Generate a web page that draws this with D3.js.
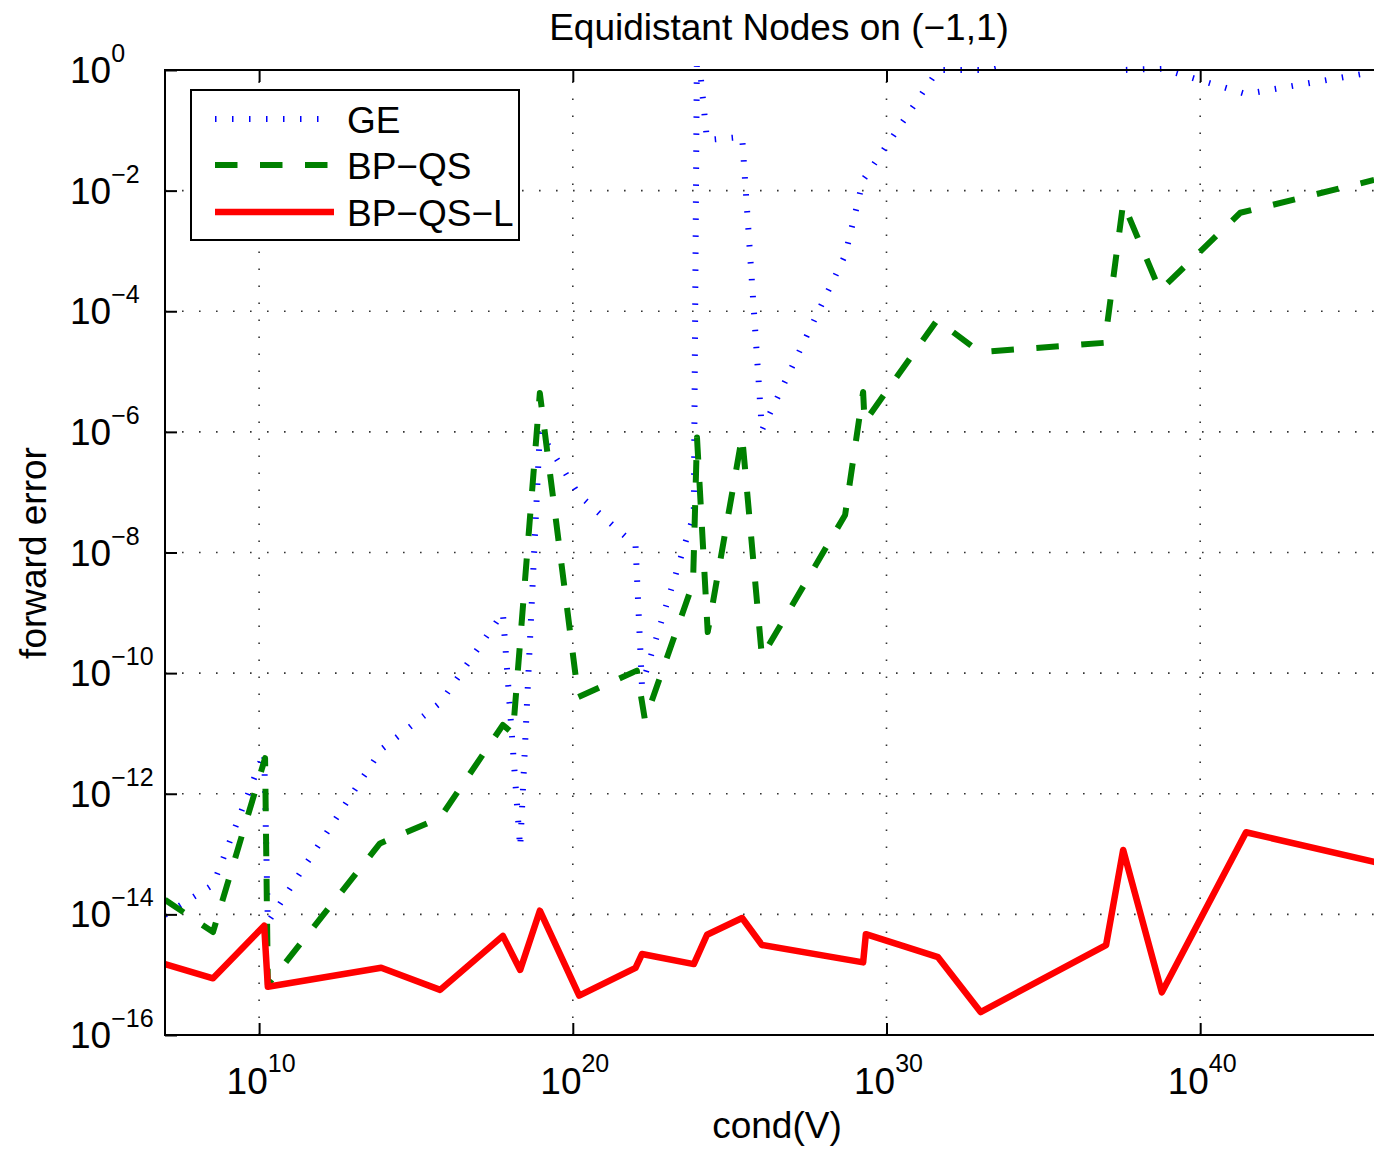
<!DOCTYPE html>
<html>
<head>
<meta charset="utf-8">
<script src="https://cdn.jsdelivr.net/npm/d3@7"></script>
<style>
  html, body { margin: 0; padding: 0; background: #fff; }
  svg { display: block; }
  text { font-family: "Liberation Sans", Arial, Helvetica, sans-serif; fill: #000; }
</style>
</head>
<body>
<svg id="chart" width="1374" height="1149"></svg>
<script>
// ---------------- data ----------------
const titleText = "Equidistant Nodes on (\u22121,1)";
const xLabelText = "cond(V)";
const yLabelText = "forward error";

const xTickExps = [10, 20, 30, 40];
const yTickExps = [0, -2, -4, -6, -8, -10, -12, -14, -16];

const seriesNames = ["GE", "BP\u2212QS", "BP\u2212QS\u2212L"];

// GE (blue dotted)
const condGE = [1e7, 3.4e8, 1.45e10, 1.9e10, 7.8e13, 5.9e15, 5.9e17, 2.1e18, 8.9e18, 1.6e20,
                1.0e22, 1.6e22, 7.2e23, 9.1e23, 1.9e24, 2.5e25, 1.07e26, 4.8e28, 1.8e29, 4.4e31,
                1.0e33, 1.0e37, 3.5e37, 6.0e38, 2.9e41, 3.5e45];
const errGE  = [9.8e-15, 3.1e-14, 4.9e-12, 7.4e-15, 5.4e-12, 3.2e-11, 1.0e-9, 1.26e-13, 1.0e-6, 8.9e-8,
                1.3e-8, 6.3e-11, 4.2e-8, 3.2, 6.9e-2, 7.8e-2, 1.07e-6, 8.5e-4, 1.5e-2, 1.0,
                1.0, 3.2, 1.0, 1.05, 0.40, 0.93];

// BP-QS (green dashed)
const condQS = [1e7, 3.4e8, 1.55e10, 1.9e10, 7.1e13, 5.9e15, 5.9e17, 1.23e18, 8.9e18, 1.5e20,
                1.1e22, 2.0e22, 6.8e23, 9.1e23, 2.0e24, 2.5e25, 1.07e26, 4.8e28, 1.8e29, 2.0e29,
                4.1e31, 9.5e32, 9.1e36, 3.5e37, 5.2e38, 1.9e41, 3.5e45];
const errQS  = [1.74e-14, 5.1e-15, 3.9e-12, 6.8e-16, 1.5e-13, 4.0e-13, 1.38e-11, 1.0e-11, 4.4e-6, 4.0e-11,
                1.1e-10, 1.66e-11, 3.1e-9, 8.1e-7, 4.8e-10, 8.5e-7, 1.86e-10, 4.2e-8, 4.6e-6, 1.45e-6,
                7.1e-5, 2.1e-5, 3.0e-5, 6.2e-3, 2.2e-4, 4.3e-3, 1.5e-2];

// BP-QS-L (red solid)
const condQSL = [1e7, 3.4e8, 1.45e10, 1.9e10, 7.8e13, 5.9e15, 5.9e17, 2.1e18, 8.9e18, 1.6e20,
                 1.0e22, 1.6e22, 7.2e23, 1.9e24, 2.5e25, 1.07e26, 1.8e29, 2.2e29, 4.4e31, 1.0e33,
                 1.0e37, 3.5e37, 6.0e38, 2.9e41, 3.5e45];
const errQSL  = [1.5e-15, 8.7e-16, 6.5e-15, 6.3e-16, 1.3e-15, 5.6e-16, 4.4e-15, 1.2e-15, 1.15e-14, 4.5e-16,
                 1.3e-15, 2.2e-15, 1.5e-15, 4.6e-15, 8.7e-15, 3.1e-15, 1.6e-15, 4.7e-15, 1.95e-15, 2.4e-16,
                 3.1e-15, 1.17e-13, 5.1e-16, 2.3e-13, 7.4e-14];

// ---------------- layout ----------------
const svg = d3.select("#chart");
const L = 165, T = 70, R = 1388.4, B = 1035;
const FONT = 37, SUP = 25;

const x = d3.scaleLog().domain([1e7, 1e46]).range([L, R]);
const y = d3.scaleLog().domain([1e-16, 1]).range([B, T]);

// grid
const grid = svg.append("g").attr("stroke", "#333").attr("stroke-width", 1.6)
  .attr("stroke-dasharray", "1.6 15.4").attr("fill", "none");
xTickExps.forEach(e => {
  const xx = x(Math.pow(10, e));
  grid.append("line").attr("x1", xx).attr("x2", xx).attr("y1", B).attr("y2", T);
});
yTickExps.forEach(e => {
  const yy = y(Math.pow(10, e));
  grid.append("line").attr("x1", L).attr("x2", R).attr("y1", yy).attr("y2", yy);
});

// clip
svg.append("defs").append("clipPath").attr("id", "clip")
  .append("rect").attr("x", L).attr("y", T - 4).attr("width", R - L).attr("height", B - T + 4);

const line = d3.line().x(d => x(d[0])).y(d => y(d[1]));
const plot = svg.append("g").attr("clip-path", "url(#clip)");

const series = [
  { name: seriesNames[0], cond: condGE, err: errGE, color: "#0000ff", width: 6, dash: "1.5 15.5", cap: "butt" },
  { name: seriesNames[1], cond: condQS, err: errQS, color: "#008000", width: 6, dash: "22.5 22.5", cap: "butt" },
  { name: seriesNames[2], cond: condQSL, err: errQSL, color: "#ff0000", width: 6.5, dash: null, cap: "round" }
];

series.forEach(s => {
  const pts = s.cond.map((c, i) => [c, s.err[i]]);
  const p = plot.append("path").datum(pts).attr("d", line)
    .attr("fill", "none").attr("stroke", s.color).attr("stroke-width", s.width)
    .attr("stroke-linejoin", "round").attr("stroke-linecap", s.cap);
  if (s.dash) p.attr("stroke-dasharray", s.dash);
});

// axes box
svg.append("rect").attr("x", L).attr("y", T).attr("width", R - L).attr("height", B - T)
  .attr("fill", "none").attr("stroke", "#000").attr("stroke-width", 2);

// ticks (inward) via d3 axes
const tick = 12;
const gxB = svg.append("g").attr("transform", `translate(0,${B})`)
  .call(d3.axisBottom(x).tickValues(xTickExps.map(e => Math.pow(10, e))).tickSize(-tick).tickFormat(""));
const gxT = svg.append("g").attr("transform", `translate(0,${T})`)
  .call(d3.axisTop(x).tickValues(xTickExps.map(e => Math.pow(10, e))).tickSize(-tick).tickFormat(""));
const gyL = svg.append("g").attr("transform", `translate(${L},0)`)
  .call(d3.axisLeft(y).tickValues(yTickExps.map(e => Math.pow(10, e))).tickSize(-tick).tickFormat(""));
[gxB, gxT, gyL].forEach(g => {
  g.select(".domain").remove();
  g.selectAll(".tick line").attr("stroke", "#000").attr("stroke-width", 2);
});

// y tick labels
yTickExps.forEach(e => {
  const yy = y(Math.pow(10, e));
  const t = svg.append("text").attr("x", 70).attr("y", yy + 13).attr("font-size", FONT);
  t.append("tspan").text("10");
  t.append("tspan").attr("font-size", SUP).attr("dy", -21)
    .text(e === 0 ? "0" : "\u2212" + Math.abs(e));
});

// x tick labels
xTickExps.forEach(e => {
  const xx = x(Math.pow(10, e));
  const t = svg.append("text").attr("x", xx + 2).attr("y", B + 59)
    .attr("font-size", FONT).attr("text-anchor", "middle");
  t.append("tspan").text("10");
  t.append("tspan").attr("font-size", SUP).attr("dy", -22).text(String(e));
});

// title and axis labels
svg.append("text").attr("x", 779).attr("y", 40).attr("font-size", FONT)
  .attr("text-anchor", "middle").text(titleText);
svg.append("text").attr("x", 777).attr("y", 1138).attr("font-size", FONT)
  .attr("text-anchor", "middle").text(xLabelText);
svg.append("text").attr("transform", "translate(46,553) rotate(-90)").attr("font-size", FONT)
  .attr("text-anchor", "middle").text(yLabelText);

// legend
const lg = svg.append("g");
lg.append("rect").attr("x", 191).attr("y", 90).attr("width", 328).attr("height", 150)
  .attr("fill", "#fff").attr("stroke", "#000").attr("stroke-width", 2);
const legY = [119, 165, 212];
series.forEach((s, i) => {
  const l = lg.append("line").attr("x1", 215).attr("x2", 334).attr("y1", legY[i]).attr("y2", legY[i])
    .attr("stroke", s.color).attr("stroke-width", s.width).attr("stroke-linecap", "butt");
  if (s.dash) l.attr("stroke-dasharray", s.dash);
  lg.append("text").attr("x", 347).attr("y", legY[i] + 14).attr("font-size", FONT).text(s.name);
});
</script>
</body>
</html>
